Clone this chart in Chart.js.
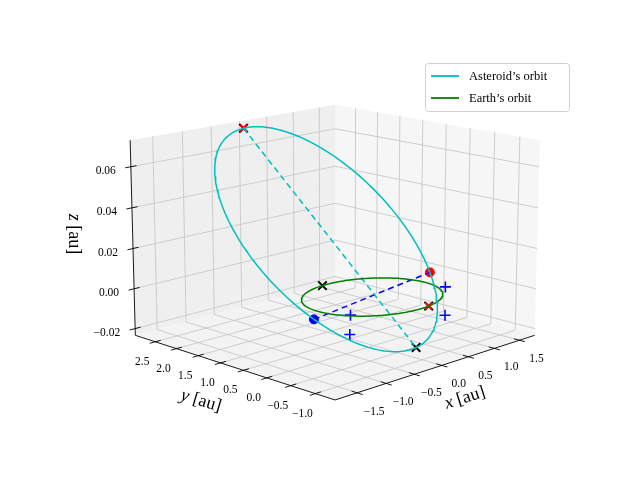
<!DOCTYPE html>
<html><head><meta charset="utf-8">
<script src="https://cdn.jsdelivr.net/npm/chart.js@4.4.1/dist/chart.umd.min.js"></script>
<style>html,body{margin:0;padding:0;background:#fff}#c{display:block}</style>
</head><body>
<div style="width:640px;height:480px"><canvas id="c" width="640" height="480"></canvas></div>
<script>
// ---- data ----
const xTicks = [-1.5, -1.0, -0.5, 0.0, 0.5, 1.0, 1.5];
const yTicks = [-1.0, -0.5, 0.0, 0.5, 1.0, 1.5, 2.0, 2.5];
const zTicks = [-0.02, 0.00, 0.02, 0.04, 0.06];
const xLim = [-1.87, 1.81], yLim = [-1.39, 2.98], zLim = [-0.0234, 0.0728];
// asteroid orbit: aphelion, perihelion, semi-minor axis and its direction
const aphelion = [-0.25, 2.60, 0.074];
const perihelion = [0.17, -0.74, -0.0225];
const astB = 1.65;
const astQ = [0.9736, 0.2164, 0.0];
const earthR = 1.0;
const blackX = [[-0.25, 2.60, 0.074], [-0.09, 0.996, 0.0], [0.174, -0.985, 0.0], [0.17, -0.74, -0.0225]];
const redX = [[-0.25, 2.60, 0.074], [0.174, -0.985, 0.0]];
const bluePlus = [[1.02, -0.43, 0.0], [1.04, -0.41, -0.015], [-0.83, -0.49, 0.0], [-0.49, -0.08, -0.015]];

// ---- projection (with mild perspective) ----
const EL = 14 * Math.PI / 180, AZ = -135 * Math.PI / 180;
const S = 286, CX = 335, CY = 239, ZASP = 0.703, PERSP = 0.15;
function proj(p) {
  const nx = (p[0] - (xLim[0] + xLim[1]) / 2) / (xLim[1] - xLim[0]);
  const ny = (p[1] - (yLim[0] + yLim[1]) / 2) / (yLim[1] - yLim[0]);
  const nz = (p[2] - (zLim[0] + zLim[1]) / 2) / (zLim[1] - zLim[0]) * ZASP;
  const rx = -Math.sin(AZ) * nx + Math.cos(AZ) * ny;
  const up = -Math.sin(EL) * Math.cos(AZ) * nx - Math.sin(EL) * Math.sin(AZ) * ny + Math.cos(EL) * nz;
  const t = Math.cos(EL) * Math.cos(AZ) * nx + Math.cos(EL) * Math.sin(AZ) * ny + Math.sin(EL) * nz;
  const f = 1 / (1 - PERSP * t);
  return { x: CX + S * f * rx, y: CY - S * f * up };
}
const C3 = [0, 1, 2].map(k => (aphelion[k] + perihelion[k]) / 2);
const A3 = [0, 1, 2].map(k => (perihelion[k] - aphelion[k]) / 2);
const astPoint = (c, s) => [0, 1, 2].map(k => C3[k] + A3[k] * c + astB * astQ[k] * s);
function orbitAst() {
  const pts = [];
  for (let i = 0; i <= 200; i++) { const E = i / 200 * 2 * Math.PI; pts.push(proj(astPoint(Math.cos(E), Math.sin(E)))); }
  return pts;
}
// nodes: where the asteroid orbit crosses z = 0
const cN = -C3[2] / A3[2], sN = Math.sqrt(1 - cN * cN);
const nodeAsc = astPoint(cN, sN), nodeDesc = astPoint(cN, -sN);
function orbitEarth() {
  const pts = [];
  for (let i = 0; i <= 200; i++) { const t = i / 200 * 2 * Math.PI; pts.push(proj([earthR * Math.cos(t), earthR * Math.sin(t), 0])); }
  return pts;
}
const line = (pts, color, dash, w) => ({ data: pts, showLine: true, borderColor: color, borderWidth: w || 1.5,
  borderDash: dash || [], pointRadius: 0, fill: false, tension: 0 });
const marks = (pts, style, color, r, w) => ({ data: pts.map(proj), showLine: false, pointStyle: style,
  pointRadius: r, borderColor: color, backgroundColor: color, borderWidth: w, pointHoverRadius: r });

const serif = '"Liberation Serif","DejaVu Serif",serif';
function seg(ctx, a, b) { const p = proj(a), q = proj(b); ctx.beginPath(); ctx.moveTo(p.x, p.y); ctx.lineTo(q.x, q.y); ctx.stroke(); }
function poly(ctx, pts, fill) { ctx.beginPath(); pts.map(proj).forEach((p, i) => i ? ctx.lineTo(p.x, p.y) : ctx.moveTo(p.x, p.y)); ctx.closePath(); ctx.fillStyle = fill; ctx.fill(); }

const boxPlugin = {
  id: 'box',
  beforeDatasetsDraw(chart) {
    const ctx = chart.ctx; ctx.save();
    const [x0, x1] = xLim, [y0, y1] = yLim, [z0, z1] = zLim;
    poly(ctx, [[x0, y0, z0], [x1, y0, z0], [x1, y1, z0], [x0, y1, z0]], '#f3f3f3');
    poly(ctx, [[x1, y0, z0], [x1, y1, z0], [x1, y1, z1], [x1, y0, z1]], '#f6f6f6');
    poly(ctx, [[x0, y1, z0], [x1, y1, z0], [x1, y1, z1], [x0, y1, z1]], '#efefef');
    ctx.strokeStyle = '#c8c8c8'; ctx.lineWidth = 0.9;
    xTicks.forEach(x => { seg(ctx, [x, y0, z0], [x, y1, z0]); seg(ctx, [x, y1, z0], [x, y1, z1]); });
    yTicks.forEach(y => { seg(ctx, [x0, y, z0], [x1, y, z0]); seg(ctx, [x1, y, z0], [x1, y, z1]); });
    zTicks.forEach(z => { seg(ctx, [x1, y0, z], [x1, y1, z]); seg(ctx, [x0, y1, z], [x1, y1, z]); });
    ctx.strokeStyle = '#000'; ctx.lineWidth = 0.9;
    seg(ctx, [x0, y0, z0], [x1, y0, z0]);
    seg(ctx, [x0, y0, z0], [x0, y1, z0]);
    seg(ctx, [x0, y1, z0], [x0, y1, z1]);
    const dy = (y1 - y0) * 0.025, dx = (x1 - x0) * 0.025;
    ctx.fillStyle = '#000'; ctx.font = '11.5px ' + serif; ctx.textAlign = 'center'; ctx.textBaseline = 'middle';
    xTicks.forEach(x => { seg(ctx, [x, y0 + dy, z0], [x, y0 - dy, z0]); const p = proj([x, y0, z0]);
      ctx.fillText(x.toFixed(1).replace('-', '\u2212'), p.x + 17, p.y + 19); });
    yTicks.forEach(y => { seg(ctx, [x0 + dx, y, z0], [x0 - dx, y, z0]); const p = proj([x0, y, z0]);
      ctx.fillText(y.toFixed(1).replace('-', '\u2212'), p.x - 13, p.y + 20); });
    ctx.textAlign = 'right';
    zTicks.forEach(z => { seg(ctx, [x0 + dx, y1, z], [x0 - dx, y1, z]); const p = proj([x0, y1, z]);
      ctx.fillText(z.toFixed(2).replace('-', '\u2212'), p.x - 15, p.y + 4); });
    const lab = (t, x, y, rot) => { ctx.save(); ctx.translate(x, y); ctx.rotate(rot);
      ctx.font = 'italic 18px ' + serif; const w1 = ctx.measureText(t + ' ').width;
      ctx.font = '18px ' + serif; const w2 = ctx.measureText('[au]').width; const st = -(w1 + w2) / 2;
      ctx.textAlign = 'left'; ctx.font = 'italic 18px ' + serif; ctx.fillText(t, st, 0);
      ctx.font = '18px ' + serif; ctx.fillText('[au]', st + w1, 0); ctx.restore(); };
    lab('x', 465, 398, -0.31);
    lab('y', 201, 401, 0.29);
    lab('z', 74, 234, Math.PI / 2);
    ctx.restore();
  },
  afterDraw(chart) {
    const ctx = chart.ctx; ctx.save();
    ctx.fillStyle = 'rgba(255,255,255,0.85)'; ctx.strokeStyle = '#d0d0d0'; ctx.lineWidth = 1;
    ctx.beginPath(); ctx.roundRect(425.5, 63.5, 144, 48, 3); ctx.fill(); ctx.stroke();
    ctx.font = '12.5px ' + serif; ctx.textBaseline = 'middle'; ctx.textAlign = 'left'; ctx.fillStyle = '#000';
    [['Asteroid\u2019s orbit', '#00bfbf', 76], ['Earth\u2019s orbit', '#008000', 98]].forEach(([t, c, y]) => {
      ctx.strokeStyle = c; ctx.lineWidth = 1.8; ctx.beginPath(); ctx.moveTo(431, y); ctx.lineTo(459, y); ctx.stroke();
      ctx.fillText(t, 469, y + 1); });
    ctx.restore();
  }
};

new Chart(document.getElementById('c'), {
  type: 'scatter',
  data: { datasets: [
    line(orbitAst(), '#00bfbf'),
    line(orbitEarth(), '#008000'),
    line([aphelion, perihelion].map(proj), '#00bfbf', [6, 4]),
    line([nodeDesc, nodeAsc].map(proj), '#0000ff', [6, 4]),
    marks([nodeAsc], 'circle', '#ff0000', 4.5, 1),
    marks([nodeDesc], 'circle', '#0000ff', 4.5, 1),
    marks(redX, 'crossRot', '#ff0000', 5, 2),
    marks(blackX, 'crossRot', '#000000', 6, 2),
    marks(bluePlus, 'cross', '#0000ff', 5.5, 1.6)
  ] },
  options: {
    responsive: false, animation: false, events: [],
    layout: { padding: 0 },
    plugins: { legend: { display: false }, tooltip: { enabled: false } },
    scales: {
      x: { type: 'linear', min: 0, max: 640, display: false },
      y: { type: 'linear', min: 0, max: 480, reverse: true, display: false }
    }
  },
  plugins: [boxPlugin]
});
</script>
</body></html>
